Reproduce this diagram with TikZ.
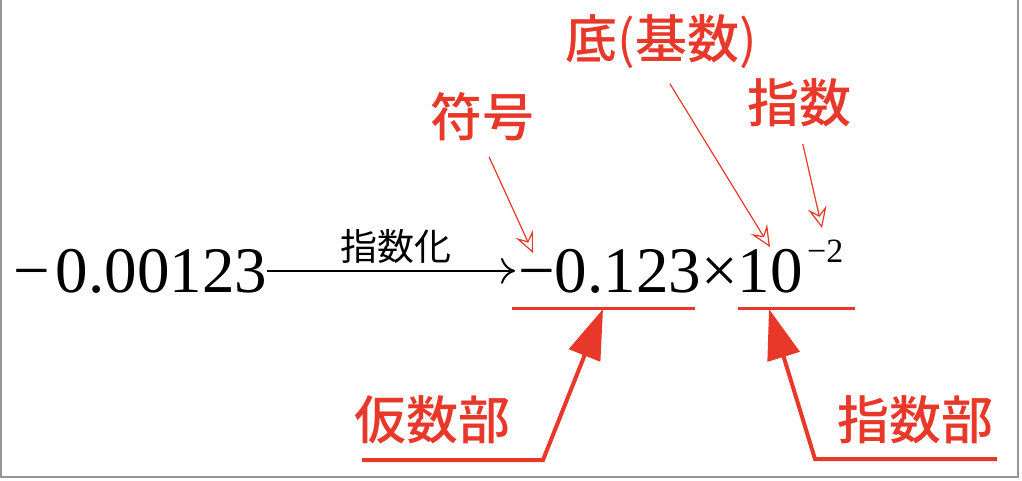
\documentclass[tikz,border=0pt]{standalone}
\usepackage{fontspec}
\setmainfont{Liberation Serif}
\newfontfamily\cjk{Noto Sans CJK JP}
\newfontfamily\cjkm{Noto Sans CJK JP}[UprightFont=* Medium]
\usetikzlibrary{arrows.meta,calc}
\definecolor{lblred}{RGB}{232,56,42}
\definecolor{framegray}{RGB}{150,150,150}
\begin{document}
\begin{tikzpicture}[x=1pt,y=-1pt,
  num/.style={inner sep=0pt, anchor=base west, font=\fontsize{65}{70}\selectfont},
  supnum/.style={inner sep=0pt, anchor=base west, font=\fontsize{34}{38}\selectfont},
  redlbl/.style={text=lblred, inner sep=0pt, font=\cjkm\fontsize{52}{56}\selectfont},
  blklbl/.style={text=black, inner sep=0pt, font=\cjk\fontsize{37}{40}\selectfont},
  pointer/.style={draw=lblred, line width=1.2pt, -{Stealth[open,length=21pt,width=19pt,inset=8pt]}, shorten <=17pt},
  bigarrow/.style={draw=lblred, line width=4pt, -{Triangle[length=50pt,width=33pt]}, line join=miter},
  underl/.style={draw=lblred, line width=3pt},
  mainarrow/.style={draw=black, line width=2pt, -{To[length=14pt,width=26pt]}, shorten >=3pt}
]
\useasboundingbox[fill=white] (0,0) rectangle (1022,480);
% frame edges
\draw[framegray, line width=1.5pt] (1,0) -- (1,477) -- (1018,477) -- (1018,0);

% numbers
\node[num] (num1) at (13,292) {−\kern6pt 0.00123};
\node[num] (expr) at (518,292) {−0.123×10};
\node[supnum] (sup) at (expr.base east) [xshift=4pt, yshift=30pt] {−2};

% main arrow
\draw[mainarrow] (num1.east) -- (expr.west);
\node[blklbl] (label) at (396,246) {指数化};

% underlines
\coordinate (u1a) at (512,308);
\coordinate (u1b) at (695,308);
\coordinate (u2a) at (738,308);
\coordinate (u2b) at (855,308);
\draw[underl] (u1a) -- (u1b);
\draw[underl] (u2a) -- (u2b);

% red labels (top)
\node[redlbl] (fugou) at (482,117) {符号};
\node[redlbl] (tei) at (661,42) {底{\cjk(}基数{\cjk)}};
\node[redlbl] (shisu) at (799,103) {指数};

\coordinate (t1) at (533,253);
\coordinate (t2) at (770,247);
\coordinate (t3) at (822,228);
\draw[pointer] (fugou.south) -- (t1);
\draw[pointer] (tei.south) -- (t2);
\draw[pointer] (shisu.south) -- (t3);

% red labels (bottom)
\node[redlbl] (kasu) at (432,420) {仮数部};
\node[redlbl] (shisubu) at (915,420) {指数部};

\coordinate (m1) at (603,309);
\coordinate (m2) at (769,309);
\coordinate (b1a) at (362,460);
\coordinate (b1c) at (543,460);
\coordinate (b2a) at (997,459);
\coordinate (b2c) at (815,459);
\draw[bigarrow] (b1a) -- (b1c) -- (m1);
\draw[bigarrow] (b2a) -- (b2c) -- (m2);
\end{tikzpicture}
\end{document}
